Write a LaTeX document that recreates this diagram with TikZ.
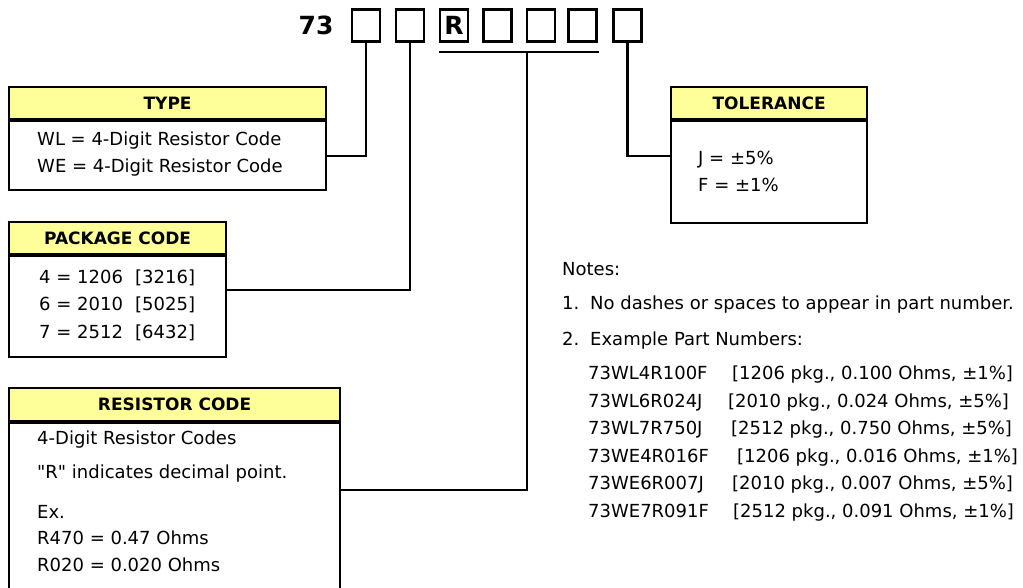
\documentclass[tikz,border=0pt]{standalone}
\usepackage{fontspec}
\setmainfont{DejaVu Sans}[Ligatures=TeXOff]
\definecolor{hdryellow}{HTML}{FFFF99}
\tikzset{
  hdr/.style={draw, fill=hdryellow, line width=2.2pt, anchor=north west,
    minimum height=32, inner sep=0pt, font=\bfseries\fontsize{17}{19}\selectfont},
  panel/.style={draw, line width=2.2pt, anchor=north west, inner sep=0pt},
  txt/.style={anchor=base west, inner sep=0pt, font=\fontsize{18}{20}\selectfont},
  digit/.style={draw, line width=2.2pt, minimum width=28, minimum height=32,
    inner sep=0pt, font=\bfseries\fontsize{25}{27}\selectfont},
  link/.style={line width=2.2pt},
  sep/.style={line width=4pt},
}
\begin{document}
\begin{tikzpicture}[x=1pt,y=-1pt]
  \clip (0,0) rectangle (1023,587);
  % part number boxes
  \node[inner sep=0pt, font=\bfseries\fontsize{25}{27}\selectfont] (pre) at (316,25) {73};
  \foreach \i/\x/\t in {1/366/,2/410/,3/454/R,4/497.5/,5/541/,6/582.5/,7/627.5/}
    \node[digit] (b\i) at (\x,25.5) {\t};
  \coordinate (ul) at (439,52);
  \coordinate (ur) at (599,52);
  \coordinate (um) at (527,52);
  \draw[link] (ul) -- (ur);

  % type
  \node[hdr, minimum width=317] (typeh) at (8,86) {TYPE};
  \node[panel, minimum width=317, minimum height=69] (typeb) at (typeh.south west) {};
  \draw[sep] (typeh.south west) -- (typeh.south east);
  \node[txt] (typeA) at (37,145.5) {WL = 4-Digit Resistor Code};
  \node[txt] (typeB) at (37,172.5) {WE = 4-Digit Resistor Code};

  % package code
  \node[hdr, minimum width=217] (pkgh) at (8,221) {PACKAGE CODE};
  \node[panel, minimum width=217, minimum height=101] (pkgb) at (pkgh.south west) {};
  \draw[sep] (pkgh.south west) -- (pkgh.south east);
  \foreach \k/\y/\a/\b in {1/283.5/4 = 1206/[3216],2/310.5/6 = 2010/[5025],3/338/7 = 2512/[6432]} {
    \node[txt] (pkgA\k) at (39,\y) {\a};
    \node[txt] (pkgB\k) at (135,\y) {\b};
  }

  % resistor code
  \node[hdr, minimum width=331, minimum height=33] (resh) at (8,387) {RESISTOR CODE};
  \node[panel, minimum width=331, minimum height=180] (resb) at (resh.south west) {};
  \draw[sep] (resh.south west) -- (resh.south east);
  \node[txt] (resA) at (37,444.5) {4-Digit Resistor Codes};
  \node[txt] (resB) at (37,478.5) {"R" indicates decimal point.};
  \node[txt] (resC) at (37,518.5) {Ex.};
  \node[txt] (resD) at (37,544.5) {R470 = 0.47 Ohms};
  \node[txt] (resE) at (37,571.5) {R020 = 0.020 Ohms};

  % tolerance
  \node[hdr, minimum width=196] (tolh) at (670,86) {TOLERANCE};
  \node[panel, minimum width=196, minimum height=102] (tolb) at (tolh.south west) {};
  \draw[sep] (tolh.south west) -- (tolh.south east);
  \node[txt] (tolA) at (698,164.5) {J = ±5\%};
  \node[txt] (tolB) at (698,191.5) {F = ±1\%};

  % connectors
  \draw[link] (b1.south) |- (typeb.east);
  \draw[link] (b2.south) |- ([yshift=16.5pt]pkgb.east);
  \draw[link] (um) |- ([yshift=23pt]resb.east);
  \draw[link] (b7.south) |- ([yshift=16pt]tolb.west);

  % notes
  \node[txt] (notes) at (562,275.5) {Notes:};
  \node[txt] (n1) at (562,309.5) {1.};
  \node[txt] (n1t) at (590,309.5) {No dashes or spaces to appear in part number.};
  \node[txt] (n2) at (562,345.5) {2.};
  \node[txt] (n2t) at (590,345.5) {Example Part Numbers:};
  \foreach \k/\y/\pn/\bx/\info in {
      1/379.5/73WL4R100F/732/{[1206 pkg., 0.100 Ohms, ±1\%]},
      2/407/73WL6R024J/728/{[2010 pkg., 0.024 Ohms, ±5\%]},
      3/434.5/73WL7R750J/731/{[2512 pkg., 0.750 Ohms, ±5\%]},
      4/462/73WE4R016F/737/{[1206 pkg., 0.016 Ohms, ±1\%]},
      5/489.5/73WE6R007J/732/{[2010 pkg., 0.007 Ohms, ±5\%]},
      6/517/73WE7R091F/733/{[2512 pkg., 0.091 Ohms, ±1\%]}} {
    \node[txt] (pn\k) at (588,\y) {\pn};
    \node[txt] (inf\k) at (\bx,\y) {\info};
  }
\end{tikzpicture}
\end{document}
